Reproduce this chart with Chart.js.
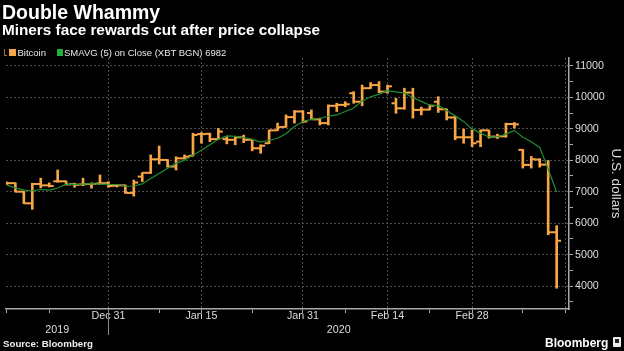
<!DOCTYPE html>
<html>
<head>
<meta charset="utf-8">
<script src="https://cdn.jsdelivr.net/npm/chart.js@4.4.1/dist/chart.umd.min.js"></script>
<style>
  html, body { margin: 0; padding: 0; background: #000; }
  #wrap { position: relative; width: 624px; height: 351px; overflow: hidden; background: #000;
          font-family: "Liberation Sans", Arial, sans-serif; color: #fff; }
  #chart { position: absolute; left: 0; top: 0; }
  .title { position: absolute; left: 2px; top: 1.5px; font-weight: bold; font-size: 19.5px; line-height: 20px; white-space: nowrap; }
  .sub { position: absolute; left: 2px; top: 21.7px; font-weight: bold; font-size: 15.3px; line-height: 16px; white-space: nowrap; }
  .leg { position: absolute; top: 47.7px; font-size: 9.5px; line-height: 10px; color: #e8e8e8; white-space: nowrap; }
  .sw { position: absolute; top: 49px; width: 7px; height: 7px; }
  .src { position: absolute; left: 3px; top: 339px; font-weight: bold; font-size: 9.7px; line-height: 10px; color: #eee; white-space: nowrap; }
  .logo { position: absolute; left: 545px; top: 336.5px; font-weight: bold; font-size: 12px; line-height: 12px; color: #fff; white-space: nowrap; }
  .logoBox { position: absolute; left: 613px; top: 337px; width: 8px; height: 10px; background: #eee; border-radius: 1px; }
  .logoBox i { position: absolute; left: 2px; top: 2px; width: 4px; height: 4px; background: #222; }
</style>
</head>
<body>
<div id="wrap">
  <canvas id="chart" width="624" height="351"></canvas>
  <div class="title">Double Whammy</div>
  <div class="sub">Miners face rewards cut after price collapse</div>
  <div style="position:absolute;left:4px;top:49px;width:2px;height:6px;border-left:1px solid #a0703a;border-bottom:1px solid #a0703a;"></div>
  <div class="sw" style="left:9px;background:#f7a545;"></div>
  <div class="leg" style="left:17.5px;">Bitcoin</div>
  <div class="sw" style="left:56.5px;background:#22b33a;width:6px;"></div>
  <div class="leg" id="smaLeg" style="left:64px;"></div>
  <div class="src">Source: Bloomberg</div>
  <div class="logo">Bloomberg</div>
  <div class="logoBox"><i></i></div>
</div>
<script>
// Weekday sessions, XBT BGN
const days = [
  'Dec 13','Dec 16','Dec 17','Dec 18','Dec 19','Dec 20','Dec 23','Dec 24','Dec 25','Dec 26','Dec 27','Dec 30','Dec 31',
  'Jan 1','Jan 2','Jan 3','Jan 6','Jan 7','Jan 8','Jan 9','Jan 10','Jan 13','Jan 14','Jan 15','Jan 16','Jan 17',
  'Jan 20','Jan 21','Jan 22','Jan 23','Jan 24','Jan 27','Jan 28','Jan 29','Jan 30','Jan 31',
  'Feb 3','Feb 4','Feb 5','Feb 6','Feb 7','Feb 10','Feb 11','Feb 12','Feb 13','Feb 14','Feb 17','Feb 18','Feb 19',
  'Feb 20','Feb 21','Feb 24','Feb 25','Feb 26','Feb 27','Feb 28',
  'Mar 2','Mar 3','Mar 4','Mar 5','Mar 6','Mar 9','Mar 10','Mar 11','Mar 12','Mar 13'
];

const openP = [7260,7270,7000,6630,7245,7200,7330,7330,7240,7230,7240,7260,7270,
  7190,7200,6960,7480,7600,8030,8010,7800,8060,8140,8830,8840,8670,
  8670,8650,8730,8650,8380,8540,8950,9060,9370,9550,
  9500,9300,9180,9730,9760,10130,9860,10290,10390,10180,9810,9650,10150,
  9600,9610,9860,9620,9360,8730,8730,
  8590,8950,8750,8760,9150,8330,7850,8020,7860,5710];
const highP = [7310,7280,7010,7270,7430,7280,7690,7340,7270,7430,7280,7530,7320,
  7230,7210,7370,7600,8170,8450,8020,8110,8170,8860,8880,8860,9010,
  8750,8750,8800,8660,8490,8960,9180,9440,9580,9580,
  9600,9340,9760,9810,9860,10180,10390,10470,10500,10390,9970,10290,10290,
  9690,9760,10020,9630,9390,8990,8960,
  8960,8960,8830,9180,9200,8340,8120,8050,7990,5920];
const lowP = [7230,6990,6620,6440,7120,7150,7300,7210,7140,7190,7110,7230,7140,
  7150,6950,6860,7320,7580,7880,7780,7690,8040,8130,8540,8590,8660,
  8520,8490,8560,8300,8220,8530,8940,9050,9180,9200,
  9290,9120,9120,9550,9700,9810,9730,10280,10150,10130,9490,9620,9340,
  9440,9600,9520,9280,8650,8540,8430,
  8430,8700,8690,8730,9020,7750,7750,7780,5630,3930];
const closeP = [7270,7000,6630,7245,7200,7180,7330,7230,7220,7240,7250,7270,7180,
  7200,6960,7290,7600,8030,8010,7800,8060,8110,8800,8830,8670,8910,
  8650,8730,8650,8380,8460,8950,9050,9370,9550,9230,
  9300,9180,9730,9760,9780,9860,10290,10390,10180,10350,9650,10150,9600,
  9610,9730,9620,9360,8730,8730,8540,
  8950,8750,8760,9150,9140,7850,8030,7860,5710,5440];
// SMAVG (5) on close, as plotted
const sma5 = [7210,7120,7050,7030,7069,7051,7117,7237,7232,7240,7254,7242,7232,
  7228,7172,7180,7246,7416,7578,7746,7900,8002,8156,8320,8494,8664,
  8772,8758,8722,8664,8574,8634,8698,8842,9076,9230,
  9300,9326,9398,9440,9550,9662,9884,10016,10100,10214,10172,10144,9986,
  9872,9748,9742,9584,9410,9234,8996,
  8862,8740,8746,8830,8950,8730,8586,8406,7718,6982];

const majorDays = ['Dec 31','Jan 15','Jan 31','Feb 14','Feb 28'];
const minorDays = ['Dec 13','Dec 20','Jan 8','Jan 23','Feb 7','Feb 21','Mar 9'];
const yearLabels = ['2019','2020'];
const yearBreak = 'Dec 31';
const yMajor = [4000,5000,6000,7000,8000,9000,10000,11000];
const yMinor = [3500,4500,5500,6500,7500,8500,9500,10500];

const ORANGE = '#f7a545';
const GREEN = '#1f8f33';
const GRID = '#4e4e4e';
const AXIS = '#a8a8a8';
const TXT = '#dedede';

document.getElementById('smaLeg').textContent =
  'SMAVG (5)  on Close (XBT BGN) ' + Math.round(sma5[sma5.length - 1]);

const xMin = -0.11, xMax = 66.46;
const majorIdx = majorDays.map(d => days.indexOf(d)).concat([days.length]);
const minorIdx = minorDays.map(d => days.indexOf(d));
const breakIdx = days.indexOf(yearBreak);
const yearMid = [(xMin + breakIdx) / 2, (breakIdx + xMax) / 2];

const idx = days.map((d, i) => i);

// year separator under the date axis
const yearSep = {
  id: 'yearSep',
  afterDraw(chart) {
    const x = Math.round(chart.scales.x.getPixelForValue(breakIdx)) + 0.5;
    const top = chart.chartArea.bottom;
    const c = chart.ctx;
    c.save();
    c.strokeStyle = '#8a8a8a';
    c.lineWidth = 1;
    c.beginPath();
    c.moveTo(x, top);
    c.lineTo(x, top + 26);
    c.stroke();
    c.restore();
  }
};

new Chart(document.getElementById('chart'), {
  type: 'bar',
  data: {
    datasets: [
      {
        type: 'line', label: 'SMAVG (5)', xAxisID: 'x', yAxisID: 'y',
        data: idx.map(i => ({ x: i, y: sma5[i] })),
        borderColor: GREEN, borderWidth: 1.2, pointRadius: 0, tension: 0, order: 0
      },
      {
        type: 'bar', label: 'Bitcoin', xAxisID: 'x', yAxisID: 'y',
        data: idx.map(i => ({ x: i, y: [lowP[i], highP[i]] })),
        backgroundColor: ORANGE, borderWidth: 0, barThickness: 2, grouped: false, order: 1
      },
      {
        type: 'scatter', label: 'open', xAxisID: 'x', yAxisID: 'y',
        data: idx.map(i => ({ x: i - 0.26, y: openP[i] })),
        pointStyle: 'line', pointRadius: 2.25, borderColor: ORANGE, borderWidth: 2, order: 1
      },
      {
        type: 'scatter', label: 'close', xAxisID: 'x', yAxisID: 'y',
        data: idx.map(i => ({ x: i + 0.26, y: closeP[i] })),
        pointStyle: 'line', pointRadius: 2.25, borderColor: ORANGE, borderWidth: 2, order: 1
      }
    ]
  },
  options: {
    responsive: false,
    animation: false,
    devicePixelRatio: 1,
    events: [],
    layout: { padding: { top: 58, bottom: 14, left: 0, right: 0 } },
    plugins: { legend: { display: false }, tooltip: { enabled: false } },
    scales: {
      x: {
        type: 'linear', axis: 'x', position: 'bottom', min: xMin, max: xMax, weight: 0, offset: false,
        afterBuildTicks: s => {
          s.ticks = majorIdx.concat(minorIdx).sort((a, b) => a - b).map(v => ({ value: v }));
        },
        afterFit: s => { s.height = 14; },
        ticks: {
          autoSkip: false, maxRotation: 0, padding: -3, color: TXT,
          font: { family: 'Liberation Sans', size: 10.7 },
          callback: v => (majorDays.includes(days[v]) ? days[v] : '')
        },
        grid: {
          offset: false,
          color: c => (c.tick && majorIdx.includes(c.tick.value) ? GRID : 'transparent'),
          tickColor: AXIS, tickLength: 4, lineWidth: 1
        },
        border: { color: AXIS, width: 1.5, dash: [2, 2] }
      },
      xYear: {
        type: 'linear', axis: 'x', position: 'bottom', min: xMin, max: xMax, weight: 1, offset: false,
        afterBuildTicks: s => { s.ticks = yearMid.map(v => ({ value: v })); },
        afterFit: s => { s.height = 14; },
        ticks: {
          autoSkip: false, maxRotation: 0, padding: 1, color: TXT,
          font: { family: 'Liberation Sans', size: 10.7 },
          callback: (v, i) => yearLabels[i]
        },
        grid: { display: false, drawTicks: false, offset: false },
        border: { display: false }
      },
      y: {
        type: 'linear', position: 'right', min: 3270, max: 11250,
        afterBuildTicks: s => {
          s.ticks = yMajor.concat(yMinor).sort((a, b) => a - b).map(v => ({ value: v }));
        },
        afterFit: s => { s.width = 55; },
        ticks: {
          padding: 2, color: TXT,
          font: { family: 'Liberation Sans', size: 10.7 },
          callback: v => (yMajor.includes(v) ? String(v) : '')
        },
        grid: {
          color: c => (c.tick && yMajor.includes(c.tick.value) ? GRID : 'transparent'),
          tickColor: AXIS, tickLength: 4, lineWidth: 1
        },
        border: { color: AXIS, width: 1.5, dash: [2, 2] },
        title: {
          display: true, text: 'U.S. dollars', color: TXT, padding: 0,
          font: { family: 'Liberation Sans', size: 13.5 }
        }
      }
    }
  },
  plugins: [yearSep]
});
</script>
</body>
</html>
